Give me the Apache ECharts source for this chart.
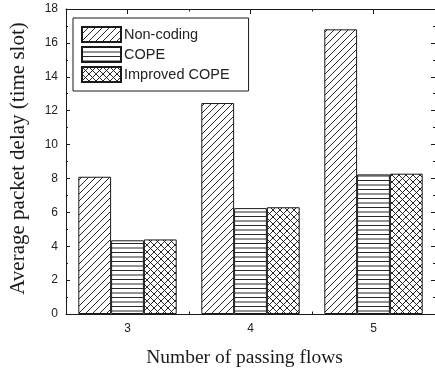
<!DOCTYPE html>
<html>
<head>
<meta charset="utf-8">
<script src="https://cdn.jsdelivr.net/npm/echarts@6/dist/echarts.min.js"></script>
<style>
  html, body { margin: 0; padding: 0; background: #fff; }
  #chart { width: 435px; height: 373px; }
</style>
</head>
<body>
<div id="chart"></div>
<script>
// Number of passing flows
const flows = ['3', '4', '5'];
// Average packet delay (time slot) per scheme
const nonCoding = [8.1, 12.45, 16.8];
const cope = [4.35, 6.25, 8.24];
const improvedCope = [4.4, 6.3, 8.28];
const yTicks = { min: 0, max: 18, step: 2 };

// Small repeating hatch tiles used as bar fills
function tile(size, w, h, draw) {
  const c = document.createElement('canvas');
  c.width = w; c.height = h;
  const g = c.getContext('2d');
  g.fillStyle = '#fff';
  g.fillRect(0, 0, w, h);
  g.strokeStyle = '#111';
  g.lineWidth = 0.9;
  draw(g, size);
  return { image: c, repeat: 'repeat' };
}
const diagonal = tile(7, 7, 7, (g, s) => {
  g.beginPath();
  for (let k = -1; k <= 1; k++) {
    g.moveTo(k * s - 2, s + 2);
    g.lineTo(k * s + s + 2, -2);
  }
  g.stroke();
});
const horizontal = tile(9, 4, 9, (g) => {
  g.beginPath();
  g.moveTo(0, 0.5); g.lineTo(4, 0.5);
  g.moveTo(0, 5); g.lineTo(4, 5);
  g.stroke();
});
const cross = tile(7, 7, 7, (g, s) => {
  g.beginPath();
  for (let k = -1; k <= 1; k++) {
    g.moveTo(k * s - 2, s + 2);
    g.lineTo(k * s + s + 2, -2);
    g.moveTo(k * s - 2, -2);
    g.lineTo(k * s + s + 2, s + 2);
  }
  g.stroke();
});

const sans = 'Liberation Sans, Arial, sans-serif';
const serif = 'Liberation Serif, Times New Roman, serif';
const ink = '#1a1a1a';

function tickAxis(position, len, alignWithLabel, showLine) {
  return {
    type: 'category',
    data: flows,
    position: position,
    axisLine: { show: showLine, lineStyle: { color: ink, width: 1 } },
    axisTick: { show: true, inside: true, length: len, alignWithLabel: alignWithLabel, lineStyle: { color: ink } },
    axisLabel: { show: false },
    splitLine: { show: false }
  };
}

function valueAxis(position, showLabels) {
  return {
    type: 'value',
    position: position,
    min: yTicks.min,
    max: yTicks.max,
    interval: yTicks.step,
    axisLine: { show: true, lineStyle: { color: ink, width: 1 } },
    axisTick: { show: true, inside: true, length: 4, lineStyle: { color: ink } },
    minorTick: { show: true, splitNumber: 2, length: 2, lineStyle: { color: ink } },
    axisLabel: { show: showLabels, fontFamily: sans, fontSize: 12, color: '#222', margin: 8 },
    splitLine: { show: false }
  };
}

function barSeries(name, values, fill) {
  return {
    name: name,
    type: 'bar',
    xAxisIndex: 0,
    yAxisIndex: 0,
    data: values,
    barGap: '0%',
    barCategoryGap: '20%',
    itemStyle: { color: fill, borderColor: ink, borderWidth: 1 },
    emphasis: { disabled: true }
  };
}

const bottomAxis = tickAxis('bottom', 5, true, true);
bottomAxis.axisLabel = { show: true, fontFamily: sans, fontSize: 12, color: '#222', margin: 9 };
bottomAxis.name = 'Number of passing flows';
bottomAxis.nameLocation = 'middle';
bottomAxis.nameGap = 34;
bottomAxis.nameTextStyle = { fontFamily: serif, fontSize: 19.5, color: ink, padding: [0, 12, 0, 0] };

const leftAxis = valueAxis('left', true);
leftAxis.name = 'Average packet delay (time slot)';
leftAxis.nameLocation = 'middle';
leftAxis.nameGap = 37;
leftAxis.nameTextStyle = { fontFamily: serif, fontSize: 21, color: ink, padding: [0, 0, 0, 6] };

const chart = echarts.init(document.getElementById('chart'), null, { renderer: 'canvas' });
chart.setOption({
  animation: false,
  backgroundColor: '#fff',
  grid: { left: 61, top: 9, width: 376, height: 306 },
  legend: {
    orient: 'vertical',
    left: 73,
    top: 18,
    padding: [8, 19, 8, 8],
    itemGap: 3,
    itemWidth: 39,
    itemHeight: 15,
    icon: 'rect',
    borderColor: ink,
    borderWidth: 1,
    textStyle: { fontFamily: sans, fontSize: 14.5, color: '#222', padding: [0, 0, 0, -2] },
    data: ['Non-coding', 'COPE', 'Improved COPE']
  },
  xAxis: [
    bottomAxis,
    tickAxis('bottom', 2.5, false, false),
    tickAxis('top', 5, true, true),
    tickAxis('top', 2.5, false, false)
  ],
  yAxis: [leftAxis, valueAxis('right', false)],
  series: [
    barSeries('Non-coding', nonCoding, diagonal),
    barSeries('COPE', cope, horizontal),
    barSeries('Improved COPE', improvedCope, cross)
  ]
});
</script>
</body>
</html>
